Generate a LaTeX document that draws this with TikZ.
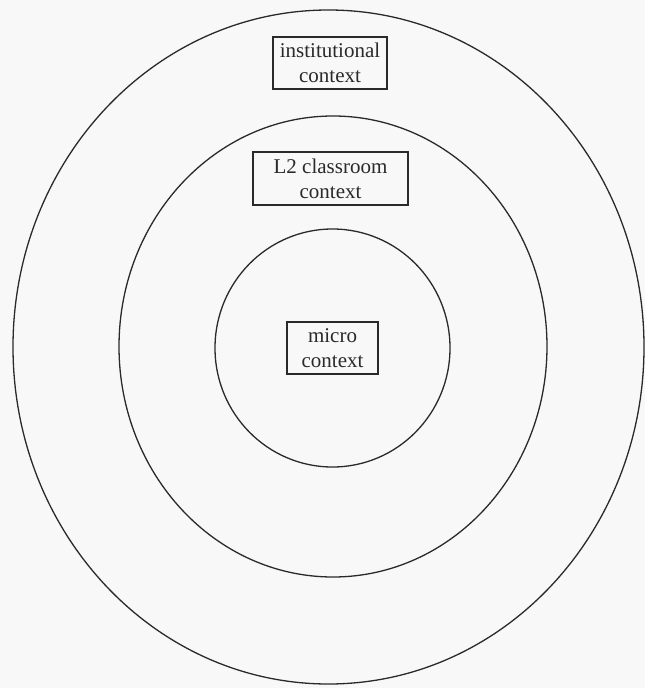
\documentclass[tikz,border=0pt]{standalone}
\usepackage{fontspec}
\setmainfont{Liberation Serif}
\usetikzlibrary{shapes.geometric}
\definecolor{ink}{HTML}{2A2A2A}
\definecolor{paper}{HTML}{F8F8F8}
\tikzset{
  ring/.style={draw=ink, line width=1.3pt, ellipse, inner sep=0pt},
  label box/.style={draw=ink, line width=1.8pt, rectangle, align=center, inner sep=0pt,
    font=\fontsize{21}{25}\selectfont, text=ink}
}
\begin{document}
\begin{tikzpicture}[x=1pt,y=-1pt]
\fill[paper] (0,0) rectangle (645,688);
\useasboundingbox (0,0) rectangle (645,688);
\node[ring, minimum width=631pt, minimum height=674pt] (outer) at (328.5,347) {};
\node[ring, minimum width=428pt, minimum height=461pt] (middle) at (333,346.5) {};
\node[ring, minimum width=235pt, minimum height=238pt] (inner) at (332.5,348) {};
\node[label box, minimum width=114pt, minimum height=52pt] (inst) at (330,63) {institutional\\context};
\node[label box, minimum width=155pt, minimum height=53pt] (l2) at (330.5,178.5) {L2 classroom\\context};
\node[label box, minimum width=91pt, minimum height=52pt] (micro) at (332.5,348) {micro\\context};
\end{tikzpicture}
\end{document}
